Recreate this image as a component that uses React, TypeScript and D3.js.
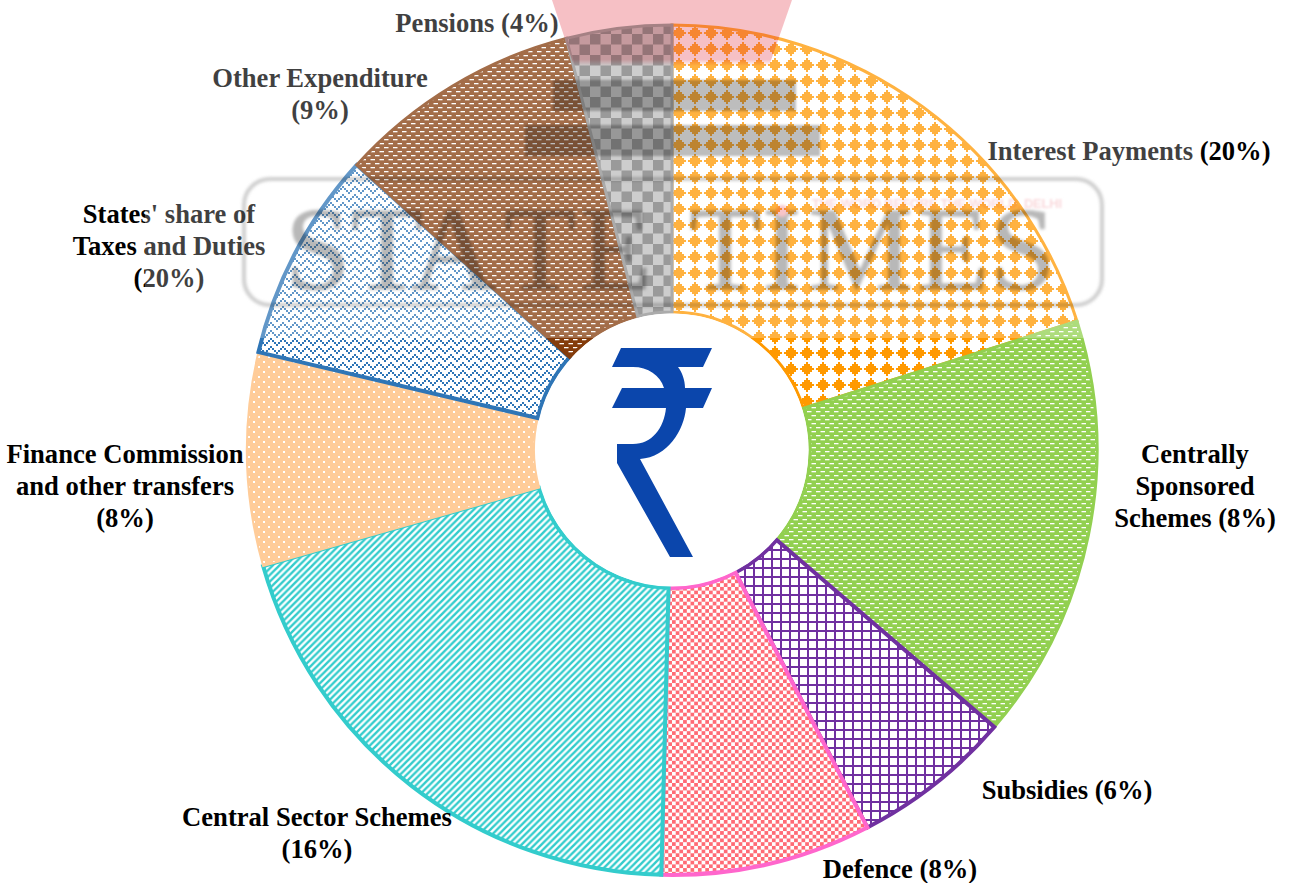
import React from "react";
import * as d3 from "d3";

const W = 1290, H = 883;
const categories = ["Interest Payments", "Centrally Sponsored Schemes", "Subsidies", "Defence", "Central Sector Schemes", "Finance Commission and other transfers", "States' share of Taxes and Duties", "Other Expenditure", "Pensions"];
const sliceShare = [20.1, 16.2, 6.1, 8, 20.2, 8.1, 8, 9.3, 4];
const strokeColors = ["#FF9900", "#92D050", "#7030A0", "#FF66CC", "#33CCCC", "#FFCC99", "#2E75B6", "#843C0C", "#8f8f8f"];
const patternIds = ["pInterest", "pCentral", "pSubsidy", "pDefence", "pSector", "pFinance", "pStates", "pOther", "pPension"];
const strokeWidths = [3, 3, 4, 4, 4, 2, 4, 3, 3];

const labelLines = [
  { lines: ["Interest Payments (20%)"], x: 1129, y: 160 },
  { lines: ["Centrally", "Sponsored", "Schemes (8%)"], x: 1195, y: 463 },
  { lines: ["Subsidies (6%)"], x: 1067, y: 799 },
  { lines: ["Defence (8%)"], x: 900, y: 878 },
  { lines: ["Central Sector Schemes", "(16%)"], x: 317, y: 826 },
  { lines: ["Finance Commission", "and other transfers", "(8%)"], x: 125, y: 463 },
  { lines: ["States' share of", "Taxes and Duties", "(20%)"], x: 169, y: 223 },
  { lines: ["Other Expenditure", "(9%)"], x: 320, y: 87 },
  { lines: ["Pensions (4%)"], x: 477, y: 32 },
];

const cx = 672, cy = 450, outerR = 425, innerR = 138;

const diamondRows = [2, 6, 10, 14, 10, 6, 2];
const zigzagTile = [[0, 6], [2, 4], [4, 2], [6, 0], [8, 2], [10, 4]];

export default function App() {
  const pie = d3.pie<number>().sort(null).value((d) => d);
  const arc = d3.arc<d3.PieArcDatum<number>>().innerRadius(innerR).outerRadius(outerR);
  const slices = pie(sliceShare);
  const serif = "'Liberation Serif', serif";
  return (
    <svg width={W} height={H} viewBox={`0 0 ${W} ${H}`} style={{ position: "absolute", left: 0, top: 0, background: "#fff" }}>
      <defs>
        <pattern id="pInterest" width="16" height="16" patternUnits="userSpaceOnUse" x="15" y="7">
          {diamondRows.map((w, i) => (
            <rect key={i} x={8 - w / 2} y={1 + i * 2} width={w} height={2} fill="#FF9900" />
          ))}
        </pattern>
        <pattern id="pCentral" width="9" height="8" patternUnits="userSpaceOnUse">
          <rect width="9" height="8" fill="#92D050" />
          <rect x="0" y="1" width="4.5" height="1.3" fill="#fff" />
          <rect x="4.5" y="5" width="4.5" height="1.3" fill="#fff" />
        </pattern>
        <pattern id="pOther" width="9" height="8" patternUnits="userSpaceOnUse">
          <rect width="9" height="8" fill="#843C0C" />
          <rect x="0" y="1" width="4.5" height="1.3" fill="#fff" />
          <rect x="4.5" y="5" width="4.5" height="1.3" fill="#fff" />
        </pattern>
        <pattern id="pSubsidy" width="9" height="9" patternUnits="userSpaceOnUse">
          <rect width="9" height="9" fill="#fff" />
          <rect width="2" height="9" fill="#7030A0" />
          <rect width="9" height="2" fill="#7030A0" />
        </pattern>
        <pattern id="pDefence" width="7.4" height="7.4" patternUnits="userSpaceOnUse">
          <rect width="7.4" height="7.4" fill="#fff" />
          <rect width="3.7" height="3.7" fill="#FF6B75" />
          <rect x="3.7" y="3.7" width="3.7" height="3.7" fill="#FF6B75" />
        </pattern>
        <pattern id="pSector" width="6.6" height="6.6" patternUnits="userSpaceOnUse">
          <rect width="6.6" height="6.6" fill="#fff" />
          <path d="M-1 7.6 L7.6 -1 M-1 1 L1 -1 M5.6 7.6 L7.6 5.6" stroke="#33CCCC" strokeWidth="2.4" />
        </pattern>
        <pattern id="pFinance" width="10" height="10" patternUnits="userSpaceOnUse">
          <rect width="10" height="10" fill="#FFCC99" />
          <rect x="1" y="1" width="2" height="2" fill="#fff" />
          <rect x="6" y="6" width="2" height="2" fill="#fff" />
        </pattern>
        <pattern id="pStates" width="12" height="8" patternUnits="userSpaceOnUse">
          <rect width="12" height="8" fill="#fff" />
          {zigzagTile.map(([x, y]) => (
            <rect key={`${x}-${y}`} x={x} y={y} width="2" height="2" fill="#2E75B6" />
          ))}
        </pattern>
        <pattern id="pPension" width="21" height="21" patternUnits="userSpaceOnUse" x="2" y="4">
          <rect width="21" height="21" fill="#bcbcbc" />
          <rect width="10.5" height="10.5" fill="#797979" />
          <rect x="10.5" y="10.5" width="10.5" height="10.5" fill="#797979" />
        </pattern>
        <filter id="wmBlur" x="-5%" y="-20%" width="110%" height="140%"><feGaussianBlur stdDeviation="1.7" /></filter>
        <filter id="wmSoft"><feGaussianBlur stdDeviation="0.8" /></filter>
        <linearGradient id="pinkFade" x1="0" x2="0" y1="0" y2="1">
          <stop offset="0" stopColor="#F6C0C5" />
          <stop offset="0.9" stopColor="#F6C0C5" />
          <stop offset="1" stopColor="#F6C0C5" stopOpacity="0" />
        </linearGradient>
      </defs>

      <g transform={`translate(${cx},${cy})`}>
        {slices.map((s, i) => (
          <path key={categories[i]} d={arc(s) as string} fill={`url(#${patternIds[i]})`} stroke={strokeColors[i]} strokeWidth={strokeWidths[i]} />
        ))}
      </g>

      <g fontFamily={serif} fontWeight="700" fontSize="26.6" textAnchor="middle">
        {labelLines.map((l, i) => (
          <text key={categories[i]} fill="#000">
            {l.lines.map((t, j) => (
              <tspan key={t} x={l.x} y={l.y + j * 32}>{t}</tspan>
            ))}
          </text>
        ))}
      </g>

      {/* Watermark image lying over the chart */}
      <rect x="145" y="0" width="1050" height="338" fill="#fff" opacity="0.25" />
      <g style={{ mixBlendMode: "multiply" }}>
        <path d="M552 0 L792 0 L769 66 L574 66 Z" fill="url(#pinkFade)" />
        <rect x="553" y="80" width="243" height="31" fill="#bdbdbd" filter="url(#wmSoft)" />
        <rect x="525" y="125" width="295" height="31" fill="#bdbdbd" filter="url(#wmSoft)" />
        <rect x="244" y="179" width="858" height="126" rx="26" fill="none" stroke="#cfcfcf" strokeWidth="4" filter="url(#wmBlur)" />
        <text x="285 351 411 504 580" y="289" fontFamily="'Liberation Serif', serif" fontSize="118" fill="#b8b8b8" stroke="#b8b8b8" strokeWidth="0.8" filter="url(#wmBlur)">STATE</text>
        <text x="689 762 808 917 990" y="289" fontFamily="'Liberation Serif', serif" fontSize="118" fill="#b8b8b8" stroke="#b8b8b8" strokeWidth="0.8" filter="url(#wmBlur)">TIMES</text>
        <circle cx="782" cy="211" r="6" fill="#F8C4C8" filter="url(#wmBlur)" />
        <text x="812" y="208" fontFamily="'Liberation Sans', sans-serif" fontSize="13" fontWeight="700" fill="#FADADD" filter="url(#wmSoft)" textLength="250">THE WORD BEFORE THE WORLD, DELHI</text>
      </g>

      {/* Centre disc with the rupee sign */}
      <circle cx={cx} cy={cy} r={innerR - 1.5} fill="#fff" />
      <path d="M621 348 H712 L703 367 H678 C682 372 685 380 685 388 H712 L703 408 H686 C684 430 668 457 640 459 L693 557 H670 L617 463 V444 H633 C652 444 664 428 666 408 H612 L622 388 H664 C660 375 648 367 633 367 H612 Z" fill="#0B46AC" />
    </svg>
  );
}
